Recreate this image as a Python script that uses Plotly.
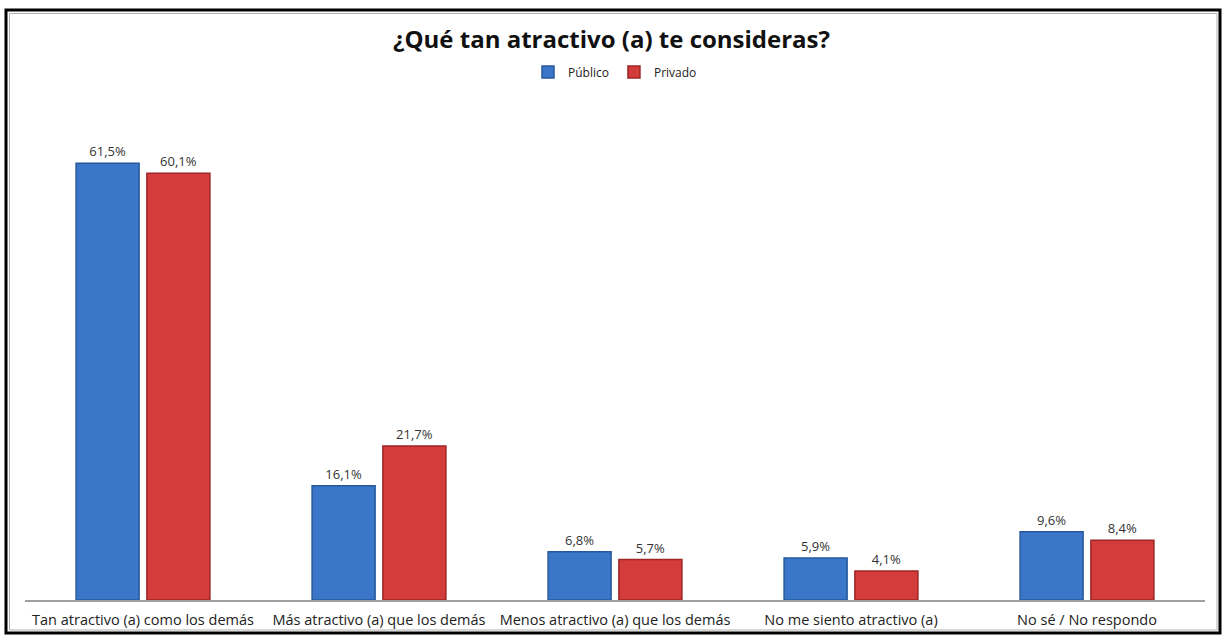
import plotly.graph_objects as go

# --- Data ---
categorias = [
    "Tan atractivo (a) como los demás",
    "Más atractivo (a) que los demás",
    "Menos atractivo (a) que los demás",
    "No me siento atractivo (a)",
    "No sé / No respondo",
]
publico = [61.5, 16.1, 6.8, 5.9, 9.6]
privado = [60.1, 21.7, 5.7, 4.1, 8.4]

W, H = 1223, 635
L, R, T, B = 25, 18, 100, 35
pw, ph = W - L - R, H - T - B


def px_x(x):
    return (x - L) / pw


def px_y(y):
    return (H - B - y) / ph


def etiqueta(v):
    return f"{v:.1f}%".replace(".", ",")


fig = go.Figure()
fig.add_trace(go.Bar(
    name="Público", x=categorias, y=publico,
    text=[etiqueta(v) for v in publico], textposition="outside",
    marker=dict(color="#3a77c9", line=dict(color="#27589c", width=1.5)),
))
fig.add_trace(go.Bar(
    name="Privado", x=categorias, y=privado,
    text=[etiqueta(v) for v in privado], textposition="outside",
    marker=dict(color="#d43b3b", line=dict(color="#9e2626", width=1.5)),
))

fig.update_traces(textfont=dict(size=13, color="#333333"), cliponaxis=False)

# marco exterior
fig.add_shape(type="rect", xref="paper", yref="paper",
              x0=px_x(6), x1=px_x(1220), y0=px_y(633), y1=px_y(10),
              line=dict(color="black", width=3), layer="above")
fig.add_shape(type="rect", xref="paper", yref="paper",
              x0=px_x(9.5), x1=px_x(1217), y0=px_y(630), y1=px_y(13.5),
              line=dict(color="#b0b0b0", width=1), layer="above")

fig.update_layout(
    width=W, height=H,
    margin=dict(l=L, r=R, t=T, b=B),
    paper_bgcolor="white", plot_bgcolor="white",
    font=dict(family="Open Sans, sans-serif", color="#222222"),
    title=dict(text="<b>¿Qué tan atractivo (a) te consideras?</b>",
               x=0.5, xanchor="center", y=1 - 40 / H, yanchor="middle",
               font=dict(size=24, color="#111111")),
    legend=dict(orientation="h", x=0.5, xanchor="center",
                y=px_y(72), yanchor="middle",
                font=dict(size=12, color="#222222"),
                itemwidth=30, traceorder="normal"),
    barmode="group", bargap=0.4, bargroupgap=0.11,
    xaxis=dict(showline=True, linecolor="#a0a0a0", linewidth=2,
               ticks="", tickfont=dict(size=14.5, color="#222222"),
               ticklabelstandoff=6, showgrid=False, automargin=False),
    yaxis=dict(range=[0, ph / 7.1], visible=False, showgrid=False,
               automargin=False),
)

fig.write_html(
    "out.html",
    config={"displayModeBar": False},
    post_script="document.body.style.margin='0';"
                "document.body.style.overflow='hidden';"
                "document.documentElement.style.overflow='hidden';",
)
